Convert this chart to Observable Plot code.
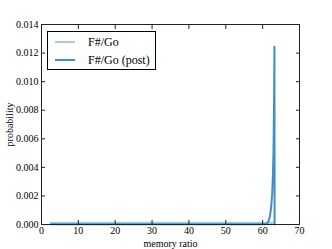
<!DOCTYPE html>
<html><head><meta charset="utf-8">
<script src="https://cdn.jsdelivr.net/npm/d3@7"></script>
<script src="https://cdn.jsdelivr.net/npm/@observablehq/plot@0.6"></script>
<style>
body{margin:0;background:#fff;}
#wrap{position:relative;width:332px;height:249px;font-family:"Liberation Serif","Times New Roman",serif;}
#wrap svg, #wrap svg text{font-family:"Liberation Serif","Times New Roman",serif !important;}
#legend{position:absolute;left:47px;top:31px;width:107px;height:37px;border:1px solid #000;background:#fff;font-size:12px;}
.row{position:absolute;left:0;height:14px;line-height:14px;}
.sw{position:absolute;left:7px;width:20px;height:2px;}
.lb{position:absolute;left:40px;white-space:nowrap;}
</style></head><body>
<div id="wrap"></div>
<script>
// series names
const seriesNames = ["F#/Go", "F#/Go (post)"];
const seriesColors = ["#a6cee3", "#3f8fc8"];
// F#/Go (prior): memory ratio vs probability
const priorX = [2.5, 10, 20, 30, 40, 50, 60, 63];
const priorY = [0.00012, 0.00012, 0.00012, 0.00012, 0.00012, 0.00012, 0.00012, 0.00012];
// F#/Go (post)
const postX = [2.5, 20, 40, 58, 60.5, 61.2, 61.6, 62.0, 62.3, 62.6, 62.8, 62.95, 63.05, 63.15, 63.2, 63.25];
const postY = [0.00001, 0.00001, 0.00001, 0.00001, 0.00002, 0.00008, 0.00025, 0.0006, 0.0012, 0.0022, 0.0035, 0.0052, 0.0075, 0.0100, 0.01245, 0.0];
// ticks
const xTicks = [0, 10, 20, 30, 40, 50, 60, 70];
const yTicks = [0, 0.002, 0.004, 0.006, 0.008, 0.010, 0.012, 0.014];

const prior = priorX.map((x, i) => ({x, y: priorY[i]}));
const post = postX.map((x, i) => ({x, y: postY[i]}));
const axisColor = "#222";
const serif = '"Liberation Serif","Times New Roman",serif';

const chart = Plot.plot({
  width: 332, height: 249,
  marginLeft: 41, marginRight: 33, marginTop: 24, marginBottom: 25,
  style: {fontFamily: serif, fontSize: "10px", color: "#000", background: "#fff"},
  x: {domain: [0, 70], ticks: xTicks, label: null},
  y: {domain: [0, 0.014], ticks: yTicks, label: null},
  marks: [
    Plot.line(prior, {x: "x", y: "y", stroke: seriesColors[0], strokeWidth: 2.2}),
    Plot.line(post, {x: "x", y: "y", stroke: seriesColors[1], strokeWidth: 2}),
    Plot.frame({stroke: axisColor, strokeWidth: 1}),
    Plot.axisX(xTicks, {anchor: "bottom", tickSize: 4, dy: -4, text: null, label: null, stroke: axisColor}),
    Plot.axisX(xTicks, {anchor: "top", tickSize: 4, dy: 4, text: null, label: null, stroke: axisColor}),
    Plot.axisY(yTicks, {anchor: "left", tickSize: 4, dx: 4, text: null, label: null, stroke: axisColor}),
    Plot.axisY(yTicks, {anchor: "right", tickSize: 4, dx: -4, text: null, label: null, stroke: axisColor}),
    Plot.axisX(xTicks, {anchor: "bottom", tickSize: 0, tickPadding: 2, label: "memory ratio", labelAnchor: "center", labelArrow: "none", labelOffset: 22, fontSize: 10, fontFamily: serif}),
    Plot.axisY(yTicks, {anchor: "left", tickSize: 0, tickPadding: 3, tickFormat: d3.format(".3f"), label: "probability", labelAnchor: "center", labelArrow: "none", labelOffset: 36, fontSize: 10, fontFamily: serif})
  ]
});
const wrap = document.getElementById("wrap");
wrap.appendChild(chart);
const lg = document.createElement("div");
lg.id = "legend";
seriesNames.forEach((n, i) => {
  const r = document.createElement("div");
  r.className = "row"; r.style.top = (3 + i * 18) + "px"; r.style.width = "107px";
  const s = document.createElement("div"); s.className = "sw"; s.style.top = "6px"; s.style.background = seriesColors[i];
  const t = document.createElement("div"); t.className = "lb"; t.textContent = n;
  r.appendChild(s); r.appendChild(t); lg.appendChild(r);
});
wrap.appendChild(lg);
</script>
</body></html>
